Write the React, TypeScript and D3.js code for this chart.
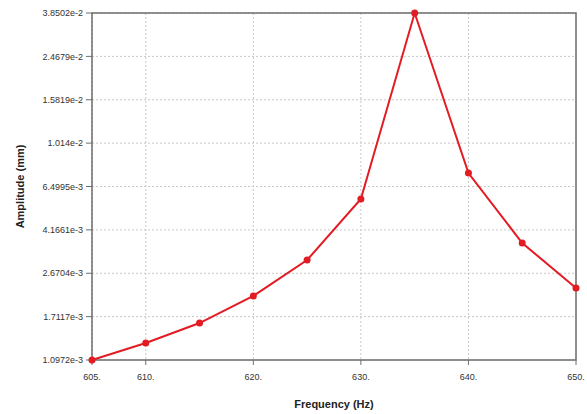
import React from 'react';
import * as d3 from 'd3';

// frequency (Hz) and amplitude (mm)
const frequencies = [605, 610, 615, 620, 625, 630, 635, 640, 645, 650];
const amplitudes = [1.0972e-3, 1.306e-3, 1.603e-3, 2.115e-3, 3.059e-3, 5.717e-3, 3.8502e-2, 7.463e-3, 3.641e-3, 2.295e-3];

const xTicks = [605, 610, 620, 630, 640, 650];
const yTicks = [1.0972e-3, 1.7117e-3, 2.6704e-3, 4.1661e-3, 6.4995e-3, 1.014e-2, 1.5819e-2, 2.4679e-2, 3.8502e-2];
const yTickLabels = ['1.0972e-3', '1.7117e-3', '2.6704e-3', '4.1661e-3', '6.4995e-3', '1.014e-2', '1.5819e-2', '2.4679e-2', '3.8502e-2'];

const W = 587, H = 414;
const margin = { top: 13, right: 11, bottom: 54, left: 92 };
const innerW = W - margin.left - margin.right;
const innerH = H - margin.top - margin.bottom;
const red = '#e31b23';
const font = 'Arial, "Liberation Sans", sans-serif';

const App = () => {
    const x = d3.scaleLinear().domain([605, 650]).range([0, innerW]);
    const y = d3.scaleLog().domain([yTicks[0], yTicks[yTicks.length - 1]]).range([innerH, 0]);

    const line = d3.line<number>()
        .x((_, i) => x(frequencies[i]))
        .y((d) => y(d))(amplitudes);

    return (
        <svg width={W} height={H} style={{ position: 'absolute', left: 0, top: 0, background: '#fff' }}>
            <g transform={`translate(${margin.left},${margin.top})`}>
                {/* grid */}
                {xTicks.map((t) => (
                    <line key={'gx' + t} x1={x(t)} x2={x(t)} y1={0} y2={innerH}
                        stroke="#c8c8c8" strokeWidth={1} strokeDasharray="2,2" />
                ))}
                {yTicks.map((t) => (
                    <line key={'gy' + t} x1={0} x2={innerW} y1={y(t)} y2={y(t)}
                        stroke="#c8c8c8" strokeWidth={1} strokeDasharray="2,2" />
                ))}
                {/* frame */}
                <rect x={0} y={0} width={innerW} height={innerH} fill="none" stroke="#6e6e6e" strokeWidth={1.5} />
                {/* y ticks */}
                {yTicks.map((t, i) => (
                    <g key={'ty' + t} transform={`translate(0,${y(t)})`}>
                        <line x1={-6} x2={0} stroke="#6e6e6e" />
                        <text x={-9} dy="0.35em" textAnchor="end" fontSize={9} fontFamily={font} fill="#333">
                            {yTickLabels[i]}
                        </text>
                    </g>
                ))}
                {/* x ticks */}
                {xTicks.map((t) => (
                    <g key={'tx' + t} transform={`translate(${x(t)},${innerH})`}>
                        <line y1={0} y2={5} stroke="#6e6e6e" />
                        <text y={20} textAnchor="middle" fontSize={9} fontFamily={font} fill="#333">
                            {t + '.'}
                        </text>
                    </g>
                ))}
                {/* series */}
                <path d={line || ''} fill="none" stroke={red} strokeWidth={2} />
                {amplitudes.map((a, i) => (
                    <circle key={i} cx={x(frequencies[i])} cy={y(a)} r={3.5} fill={red} />
                ))}
            </g>
            {/* axis titles */}
            <text x={margin.left + innerW / 2} y={408} textAnchor="middle" fontSize={11}
                fontWeight="bold" fontFamily={font} fill="#222">Frequency (Hz)</text>
            <text transform={`translate(24,${margin.top + innerH / 2}) rotate(-90)`} textAnchor="middle"
                fontSize={11} fontWeight="bold" fontFamily={font} fill="#222">Amplitude (mm)</text>
        </svg>
    );
};

export default App;
